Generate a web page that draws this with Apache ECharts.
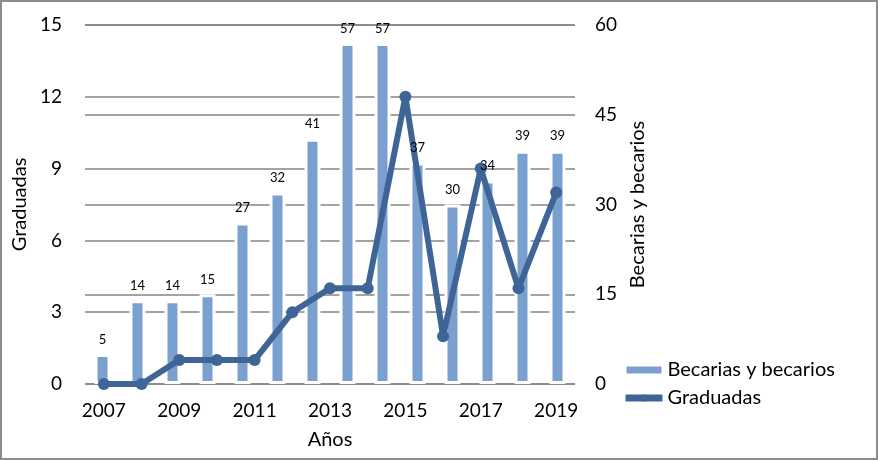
<!DOCTYPE html>
<html><head><meta charset="utf-8">
<script src="https://cdn.jsdelivr.net/npm/echarts@6/dist/echarts.min.js"></script>
<style>
html,body{margin:0;padding:0;background:#fff;}
#wrap{width:878px;height:460px;box-sizing:border-box;border:2px solid #8c8c8c;position:relative;}
#chart{position:absolute;left:-2px;top:-2px;width:878px;height:460px;}
</style></head>
<body><div id="wrap"><div id="chart"></div></div>
<script>
const years = ['2007','2008','2009','2010','2011','2012','2013','2014','2015','2016','2017','2018','2019'];
const barSlots = ['1','2','3','4','5','6','7','8','9','10','11','12','13','14'];
const becarios = [5,14,14,15,27,32,41,57,57,37,30,34,39,39];
const graduadas = [0,0,1,1,1,3,4,4,12,2,9,4,8];
const leftTicks = {min:0,max:15,interval:3};
const rightTicks = {min:0,max:60,interval:15};

const FONT = 'Lato, "Open Sans", sans-serif';
const chart = echarts.init(document.getElementById('chart'));
chart.setOption({
  animation:false,
  textStyle:{fontFamily:FONT,color:'#000'},
  grid:{left:85,right:303,top:25,bottom:76},
  legend:{
    orient:'vertical', left:617, top:355, itemGap:8, itemWidth:37, itemHeight:9,
    textStyle:{fontFamily:FONT,fontSize:20,color:'#000'},
    data:[{name:'Becarias y becarios'},{name:'Graduadas',lineStyle:{width:7}}]
  },
  xAxis:[
    {type:'category',data:years,position:'bottom',
     name:'Años',nameLocation:'middle',nameGap:46,
     nameTextStyle:{fontFamily:FONT,fontSize:20,color:'#000'},
     axisLine:{show:false},axisTick:{show:false},
     axisLabel:{interval:1,fontFamily:FONT,fontSize:19,color:'#000',margin:17}},
    {type:'category',data:barSlots,show:false}
  ],
  yAxis:[
    {type:'value',min:leftTicks.min,max:leftTicks.max,interval:leftTicks.interval,
     name:'Graduadas',nameLocation:'middle',nameGap:53,nameRotate:90,
     nameTextStyle:{fontFamily:FONT,fontSize:20,color:'#000'},
     axisLine:{show:false},axisTick:{show:false},
     axisLabel:{fontFamily:FONT,fontSize:19,color:'#000',margin:23},
     splitLine:{lineStyle:{color:'#848484',width:1.5}}},
    {type:'value',min:rightTicks.min,max:rightTicks.max,interval:rightTicks.interval,position:'right',
     name:'Becarias y becarios',nameLocation:'middle',nameGap:52,nameRotate:90,
     nameTextStyle:{fontFamily:FONT,fontSize:20,color:'#000'},
     axisLine:{show:false},axisTick:{show:false},
     axisLabel:{fontFamily:FONT,fontSize:19,color:'#000',margin:20},
     splitLine:{lineStyle:{color:'#848484',width:1.5}}}
  ],
  series:[
    {name:'Becarias y becarios',type:'bar',xAxisIndex:1,yAxisIndex:1,data:becarios,
     barWidth:16,
     itemStyle:{color:'#7aa0cf',borderColor:'#ffffff',borderWidth:3},
     z:2},
    {name:'Graduadas',type:'line',xAxisIndex:0,yAxisIndex:0,data:graduadas,
     lineStyle:{color:'#3f6597',width:6},
     itemStyle:{color:'#3f6597'},
     symbol:'circle',symbolSize:12,z:3},
    {name:'labels',type:'bar',xAxisIndex:1,yAxisIndex:1,data:becarios,
     barWidth:16,barGap:'-100%',silent:true,tooltip:{show:false},
     itemStyle:{color:'rgba(0,0,0,0)'},
     label:{show:true,position:'top',distance:8,fontFamily:FONT,fontSize:13,color:'#000'},
     z:5}
  ]
});
</script></body></html>
